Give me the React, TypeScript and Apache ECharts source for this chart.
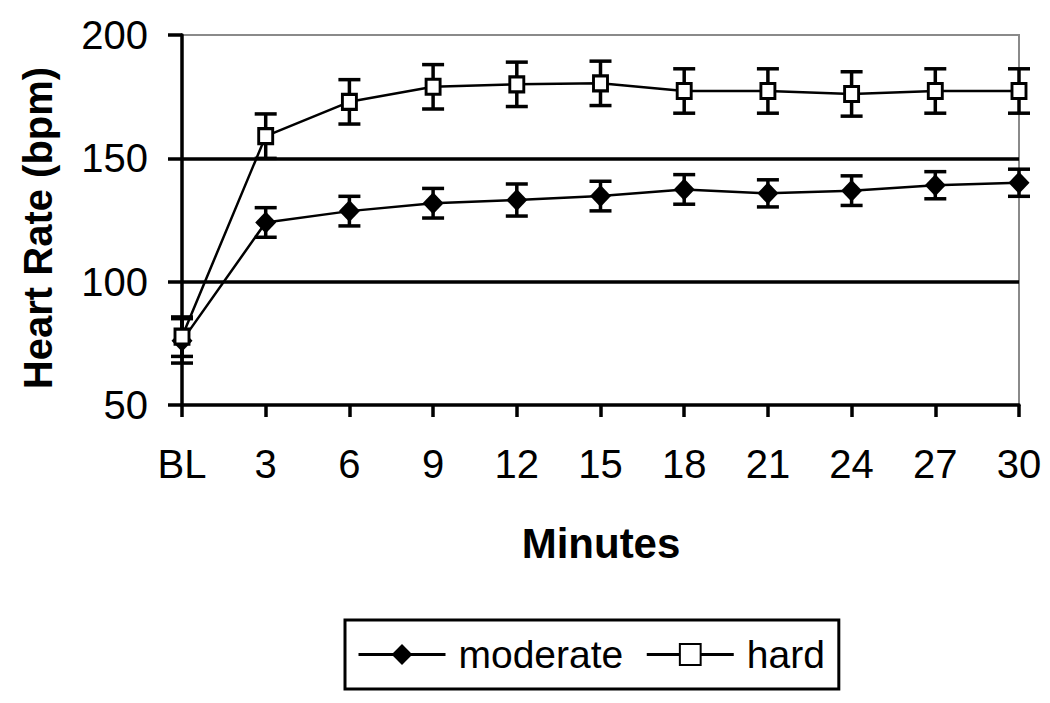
import React, { useEffect, useRef } from "react";
import * as echarts from "echarts";

const categories = ["BL", "3", "6", "9", "12", "15", "18", "21", "24", "27", "30"];
const moderateMean = [76, 124, 128.6, 131.8, 133.1, 134.7, 137.4, 135.8, 136.9, 139.1, 140.1];
const moderateSD = [9, 6, 6, 6, 6.5, 6, 6, 5.5, 6, 5.5, 5.5];
const hardMean = [77.7, 159, 172.9, 179, 180, 180.4, 177.3, 177.3, 176.1, 177.3, 177.3];
const hardSD = [8, 9, 9, 9, 9, 9, 9, 9, 9, 9, 9];
const yTicks = { min: 50, max: 200, interval: 50 };

const FONT = "'Liberation Sans', Arial, sans-serif";

function errData(mean: number[], sd: number[]) {
  return mean.map((m, i) => [i, m - sd[i], m + sd[i]]);
}

function renderErr(params: any, api: any) {
  const i = api.value(0);
  const lo = api.coord([i, api.value(1)]);
  const hi = api.coord([i, api.value(2)]);
  const hw = 11;
  const style = { stroke: "#000", lineWidth: 3.5 };
  return {
    type: "group",
    children: [
      { type: "line", shape: { x1: lo[0], y1: lo[1], x2: hi[0], y2: hi[1] }, style },
      { type: "line", shape: { x1: lo[0] - hw, y1: lo[1], x2: lo[0] + hw, y2: lo[1] }, style },
      { type: "line", shape: { x1: hi[0] - hw, y1: hi[1], x2: hi[0] + hw, y2: hi[1] }, style },
    ],
  };
}

export default function App() {
  const ref = useRef<HTMLDivElement>(null);
  useEffect(() => {
    if (!ref.current) return;
    const chart = echarts.init(ref.current, undefined, { renderer: "svg" });
    chart.setOption({
      animation: false,
      backgroundColor: "#fff",
      textStyle: { fontFamily: FONT },
      grid: {
        left: 182,
        right: 31,
        top: 35,
        bottom: 298,
        show: true,
        borderColor: "#8a8a8a",
        borderWidth: 2,
        backgroundColor: "transparent",
      },
      xAxis: {
        type: "category",
        data: categories,
        boundaryGap: false,
        axisLine: { show: true, lineStyle: { color: "#000", width: 3.5 } },
        axisTick: { show: true, alignWithLabel: true, length: 12, lineStyle: { color: "#000", width: 3.5 } },
        axisLabel: { color: "#000", fontSize: 40, fontFamily: FONT, margin: 39 },
        splitLine: { show: false },
      },
      yAxis: {
        type: "value",
        min: yTicks.min,
        max: yTicks.max,
        interval: yTicks.interval,
        axisLine: { show: true, lineStyle: { color: "#000", width: 3.5 } },
        axisTick: { show: true, length: 14, lineStyle: { color: "#000", width: 3.5 } },
        axisLabel: { color: "#000", fontSize: 40, fontFamily: FONT, margin: 34 },
        splitLine: {
          show: true,
          showMinLine: false,
          showMaxLine: false,
          lineStyle: { color: "#000", width: 3.5 },
        },
      },
      legend: {
        data: ["moderate", "hard"],
        left: 345,
        top: 620,
        orient: "horizontal",
        itemWidth: 87,
        itemHeight: 26,
        itemGap: 22,
        borderColor: "#000",
        borderWidth: 3,
        padding: [15, 14, 15, 12],
        lineStyle: { width: 3 },
        textStyle: { color: "#000", fontSize: 39, fontFamily: FONT, padding: [0, 0, 0, 8] },
      },
      graphic: [
        {
          type: "text",
          x: 38,
          y: 228,
          rotation: Math.PI / 2,
          style: {
            text: "Heart Rate (bpm)",
            fill: "#000",
            font: `bold 40px ${FONT}`,
            align: "center",
            verticalAlign: "middle",
          },
        },
        {
          type: "text",
          x: 601,
          y: 543,
          style: {
            text: "Minutes",
            fill: "#000",
            font: `bold 42px ${FONT}`,
            align: "center",
            verticalAlign: "middle",
          },
        },
      ],
      series: [
        {
          name: "moderate-err",
          type: "custom",
          renderItem: renderErr,
          data: errData(moderateMean, moderateSD),
          encode: { x: 0, y: [1, 2] },
          z: 1,
          silent: true,
        },
        {
          name: "hard-err",
          type: "custom",
          renderItem: renderErr,
          data: errData(hardMean, hardSD),
          encode: { x: 0, y: [1, 2] },
          z: 1,
          silent: true,
        },
        {
          name: "moderate",
          type: "line",
          data: moderateMean,
          symbol: "diamond",
          symbolSize: [21, 22],
          showAllSymbol: true,
          clip: false,
          lineStyle: { color: "#000", width: 2.5 },
          itemStyle: { color: "#000", borderColor: "#000", borderWidth: 0 },
          z: 3,
        },
        {
          name: "hard",
          type: "line",
          data: hardMean,
          symbol: "rect",
          symbolSize: [14, 15],
          showAllSymbol: true,
          clip: false,
          lineStyle: { color: "#000", width: 2.5 },
          itemStyle: { color: "#fff", borderColor: "#000", borderWidth: 3 },
          z: 4,
        },
      ],
    });
    return () => chart.dispose();
  }, []);
  return (
    <div
      ref={ref}
      style={{ position: "fixed", left: 0, top: 0, width: 1050, height: 703, background: "#fff" }}
    />
  );
}
